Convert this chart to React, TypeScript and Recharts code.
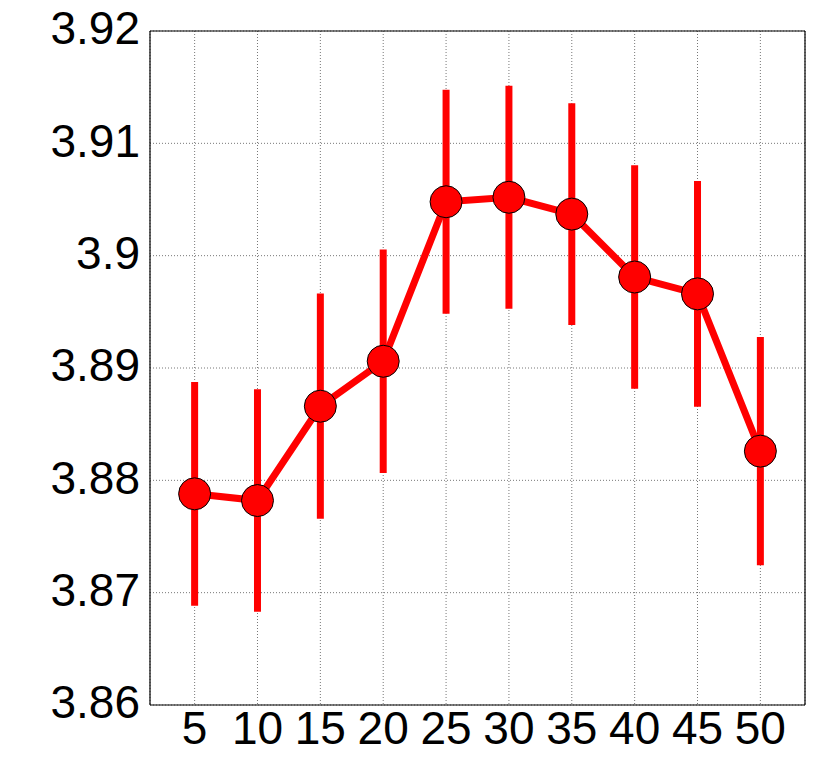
import { LineChart, Line, XAxis, YAxis, CartesianGrid, ErrorBar, ReferenceLine } from 'recharts';

const xValues = [5, 10, 15, 20, 25, 30, 35, 40, 45, 50];
const means = [3.8788, 3.8782, 3.8866, 3.8906, 3.9048, 3.9052, 3.9037, 3.8981, 3.8966, 3.8826];
const errors = [0.00996, 0.0099, 0.01003, 0.00994, 0.00998, 0.00993, 0.00987, 0.00994, 0.01005, 0.01016];

const yTicks = [3.86, 3.87, 3.88, 3.89, 3.9, 3.91, 3.92];
const yTickLabels = ['3.86', '3.87', '3.88', '3.89', '3.9', '3.91', '3.92'];

const data = xValues.map((x, i) => ({ x, mean: means[i], err: errors[i] }));

const xDomain = [1.45, 53.55];
const yDomain = [3.86, 3.92];
const font = { fill: '#000', fontSize: 46, fontFamily: 'Liberation Sans, Arial, sans-serif' };

export default function App() {
  return (
    <div style={{ position: 'absolute', left: 0, top: 0, background: '#fff' }}>
      <LineChart width={830} height={767} data={data} margin={{ top: 31, right: 25, bottom: 0, left: 0 }}>
        <CartesianGrid stroke="#777" strokeDasharray="1 2" />
        <XAxis
          dataKey="x"
          type="number"
          domain={xDomain}
          ticks={xValues}
          interval={0}
          height={62}
          tick={font}
          tickLine={false}
          tickSize={6}
          tickMargin={0}
          axisLine={{ stroke: '#000', strokeWidth: 1.2 }}
        />
        <YAxis
          type="number"
          domain={yDomain}
          ticks={yTicks}
          interval={0}
          width={150}
          tick={{ ...font, dy: -3 }}
          tickFormatter={(v: number) => yTickLabels[yTicks.findIndex((t) => Math.abs(t - v) < 1e-9)] ?? String(v)}
          tickLine={false}
          tickSize={6}
          tickMargin={4}
          axisLine={{ stroke: '#000', strokeWidth: 1.2 }}
        />
        <ReferenceLine y={yDomain[1]} stroke="#000" strokeWidth={1.2} />
        <ReferenceLine x={xDomain[1]} stroke="#000" strokeWidth={1.2} />
        <Line
          type="linear"
          dataKey="mean"
          stroke="#ff0000"
          strokeWidth={7}
          dot={{ r: 16, fill: '#ff0000', stroke: '#000', strokeWidth: 1 }}
          activeDot={false}
          isAnimationActive={false}
        >
          <ErrorBar dataKey="err" direction="y" width={0} stroke="#ff0000" strokeWidth={7} />
        </Line>
      </LineChart>
    </div>
  );
}
